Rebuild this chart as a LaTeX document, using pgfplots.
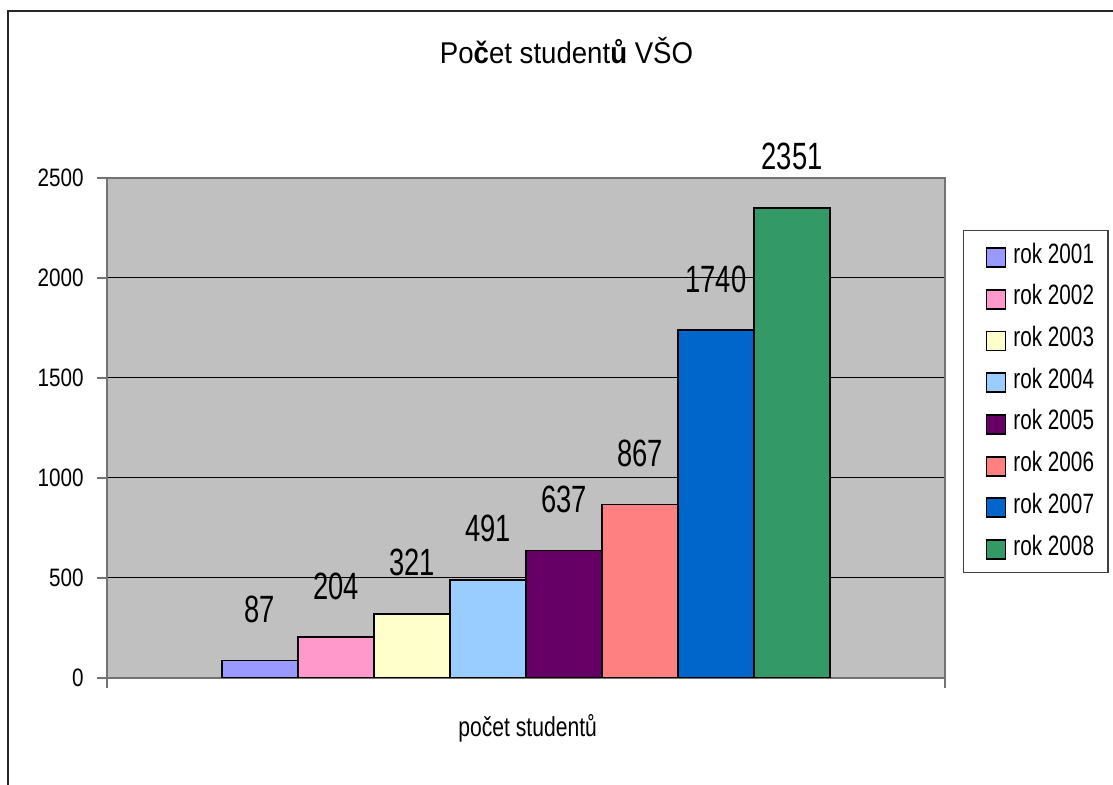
\documentclass[border=0pt]{standalone}
\usepackage{pgfplots}
\pgfplotsset{compat=1.18}
\usepackage{fontspec}
\setmainfont[FakeStretch=0.82]{Liberation Sans}
\newfontfamily\titlefont[FakeStretch=0.92]{Liberation Sans}
\newfontfamily\lblfont[FakeStretch=0.72]{Liberation Sans}
\newfontfamily\legfont[FakeStretch=0.74]{Liberation Sans}
\newfontfamily\xlfont[FakeStretch=0.77]{Liberation Sans}
\definecolor{plotbg}{HTML}{C0C0C0}
\definecolor{c1}{HTML}{9999FF}
\definecolor{c2}{HTML}{FF99CC}
\definecolor{c3}{HTML}{FFFFCC}
\definecolor{c4}{HTML}{99CCFF}
\definecolor{c5}{HTML}{660066}
\definecolor{c6}{HTML}{FF8080}
\definecolor{c7}{HTML}{0066CC}
\definecolor{c8}{HTML}{339966}
\begin{document}
\begin{tikzpicture}
\path[use as bounding box] (0,0) rectangle (556.5pt,392.5pt);
\draw[line width=1pt, black!85] (4pt,-20pt) rectangle (600pt,387pt);
\node[anchor=base, font=\titlefont\fontsize{15}{18}\selectfont] at (283.25pt,360.85pt) {Po{\bfseries č}et student{\bfseries ů} VŠO};
\begin{axis}[
  at={(53.5pt,53.5pt)}, anchor=south west,
  scale only axis, width=419pt, height=250pt,
  xmin=-1, xmax=1, ymin=0, ymax=2500,
  xtick={-1,1}, xticklabels={},
  ytick={0,500,1000,1500,2000,2500},
  ybar=0pt, bar width=38pt,
  every axis plot post/.append style={
    legend image code/.code={\path (0pt,0pt); \draw[##1, draw=black, line width=0.9pt] (4pt,-7pt) rectangle (13.5pt,2.5pt);}},
  axis background/.style={fill=plotbg},
  axis line style={draw=gray!90!black, line width=0.7pt},
  ymajorgrids, grid style={black, line width=0.5pt},
  tick align=outside, tick pos=left, major tick length=5pt,
  tick style={gray!90!black, line width=0.7pt},
  /pgf/number format/assume math mode=true,
  /pgf/number format/1000 sep={},
  yticklabel style={font=\fontsize{12.6}{14}\selectfont, inner sep=0pt, anchor=east, xshift=-6.5pt},
  xlabel={počet studentů},
  xlabel style={font=\xlfont\fontsize{13.7}{16}\selectfont, at={(axis description cs:0.502,-0.118)}, anchor=base, inner sep=0pt},
  nodes near coords,
  nodes near coords style={font=\lblfont\fontsize{19}{21}\selectfont, inner sep=0pt, anchor=south, yshift=18.3pt},
  legend style={at={(1.0215,0.896)}, anchor=north west, draw=black!75, line width=0.6pt, fill=white,
    font=\legfont\fontsize{14}{16}\selectfont, row sep=8.4pt, inner xsep=7pt, inner ysep=6.3pt,
    nodes={inner sep=0pt, text height=10pt, text depth=0pt},
    cells={anchor=west},
    /tikz/every odd column/.append style={column sep=3.5pt}},
]
\addplot[fill=c1, draw=black, line width=0.9pt] coordinates {(0,87)};
\addplot[fill=c2, draw=black, line width=0.9pt] coordinates {(0,204)};
\addplot[fill=c3, draw=black, line width=0.9pt] coordinates {(0,321)};
\addplot[fill=c4, draw=black, line width=0.9pt] coordinates {(0,491)};
\addplot[fill=c5, draw=black, line width=0.9pt] coordinates {(0,637)};
\addplot[fill=c6, draw=black, line width=0.9pt] coordinates {(0,867)};
\addplot[fill=c7, draw=black, line width=0.9pt] coordinates {(0,1740)};
\addplot[fill=c8, draw=black, line width=0.9pt] coordinates {(0,2351)};
\legend{rok 2001,rok 2002,rok 2003,rok 2004,rok 2005,rok 2006,rok 2007,rok 2008}
\end{axis}
\end{tikzpicture}
\end{document}
